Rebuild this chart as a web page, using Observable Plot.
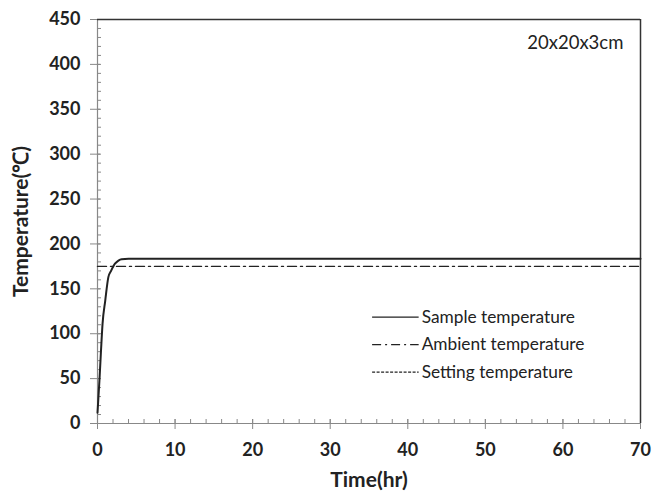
<!DOCTYPE html>
<html>
<head>
<meta charset="utf-8">
<script src="https://cdn.jsdelivr.net/npm/d3@7"></script>
<script src="https://cdn.jsdelivr.net/npm/@observablehq/plot@0.6"></script>
<style>
  html, body { margin: 0; padding: 0; background: #fff; }
  #chart { width: 671px; height: 491px; }
  g[aria-label="x-axis tick label"], g[aria-label="y-axis tick label"] { font-size: 18px; font-weight: bold; }
  g[aria-label="x-axis label"], g[aria-label="y-axis label"] { font-size: 21px; font-weight: bold; }
</style>
</head>
<body>
<div id="chart"></div>
<script>
// Data
const sampleTime = [0, 0.25, 0.45, 0.65, 1.0, 1.4, 1.75, 2.25, 2.7, 3.1, 4, 70];
const sampleTemp = [12, 48, 81, 111, 137, 163, 170, 178, 181.5, 183, 183.5, 183.5];
const ambientTime = [0, 70];
const ambientTemp = [175, 175];

const xMajorTicks = [0, 10, 20, 30, 40, 50, 60, 70];
const xMinorTicks = d3.range(0, 71, 2);
const yMajorTicks = [0, 50, 100, 150, 200, 250, 300, 350, 400, 450];
const yMinorTicks = d3.range(0, 451, 10);

const legendLabels = ["Sample temperature", "Ambient temperature", "Setting temperature"];
const annotation = "20x20x3cm";

const sample = sampleTime.map((t, i) => ({t, T: sampleTemp[i]}));
const ambient = ambientTime.map((t, i) => ({t, T: ambientTemp[i]}));

const dashes = [null, "9,4,2,4", "3,1.5"];
const legendRows = legendLabels.map((label, i) => ({
  label, i, x1: 35.4, x2: 41.4, y: 118.4 - i * 30.6
}));

const axisGray = "#888";
const textColor = "#222";
const frameW = 671 - 97 - 31;
const frameH = 491 - 19 - 68;

const plot = Plot.plot({
  width: 671,
  height: 491,
  marginLeft: 97,
  marginRight: 31,
  marginTop: 19,
  marginBottom: 68,
  style: {fontFamily: "Lato, 'Open Sans', sans-serif", background: "#fff", color: textColor},
  x: {domain: [0, 70], axis: null},
  y: {domain: [0, 450], axis: null},
  marks: [
    // minor ticks (inward)
    Plot.tickX(xMinorTicks, {x: d => d, stroke: axisGray, insetTop: frameH - 4}),
    Plot.tickY(yMinorTicks, {y: d => d, stroke: axisGray, insetRight: frameW - 4}),
    // major ticks crossing the axis
    Plot.tickX(xMajorTicks, {x: d => d, stroke: axisGray, insetTop: frameH - 4, insetBottom: -6}),
    Plot.tickY(yMajorTicks, {y: d => d, stroke: axisGray, insetRight: frameW - 3, insetLeft: -7}),
    // labels
    Plot.axisX(xMajorTicks, {
      tickSize: 0, tickPadding: 20, fill: textColor,
      label: "Time(hr)", labelAnchor: "center", labelOffset: 63, labelArrow: "none"
    }),
    Plot.axisY(yMajorTicks, {
      tickSize: 0, tickPadding: 17, fill: textColor,
      label: "Temperature(℃)", labelAnchor: "center", labelOffset: 84, labelArrow: "none"
    }),
    // frame
    Plot.ruleX([0], {stroke: axisGray, strokeWidth: 1.2}),
    Plot.ruleY([0], {stroke: axisGray, strokeWidth: 1.2}),
    Plot.ruleY([450], {stroke: "#333", strokeWidth: 1.5}),
    Plot.ruleX([70], {stroke: "#333", strokeWidth: 1.5}),
    // series
    Plot.line(ambient, {x: "t", y: "T", stroke: "#222", strokeWidth: 1.4, strokeDasharray: dashes[1]}),
    Plot.line(sample, {x: "t", y: "T", stroke: "#222", strokeWidth: 2, curve: "monotone-x"}),
    // legend
    ...legendRows.map(r => Plot.link([r], {x1: "x1", x2: "x2", y1: "y", y2: "y", stroke: "#222", strokeWidth: 1.3, strokeDasharray: dashes[r.i]})),
    Plot.text(legendRows, {x: "x2", y: "y", text: "label", textAnchor: "start", dx: 3, fontSize: 17.3, fill: textColor}),
    // annotation
    Plot.text([annotation], {x: 55.4, y: 424, text: d => d, textAnchor: "start", fontSize: 18.5, fill: textColor})
  ]
});
document.getElementById("chart").appendChild(plot);
</script>
</body>
</html>
